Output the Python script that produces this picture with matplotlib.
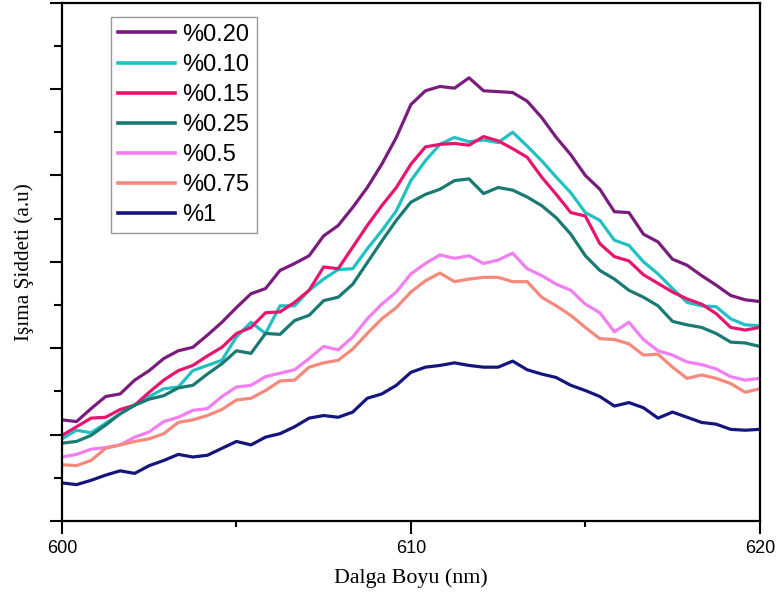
import numpy as np
import matplotlib
matplotlib.use('Agg')
from matplotlib import pyplot as plt
from matplotlib.ticker import MultipleLocator

# dalga boyu (nm), 49 nokta
wavelength = np.linspace(600, 620, 49)

labels = ['%0.20', '%0.10', '%0.15', '%0.25', '%0.5', '%0.75', '%1']
colors = ['#7a1c7e', '#22c0c2', '#e8146e', '#187a72', '#f27ef2', '#f58a7c', '#15157e']

p020 = [1.17, 1.15, 1.30, 1.44, 1.47, 1.63, 1.74, 1.88, 1.97, 2.01, 2.15, 2.30,
        2.47, 2.63, 2.69, 2.90, 2.98, 3.07, 3.30, 3.42, 3.63, 3.86, 4.13, 4.44,
        4.82, 4.98, 5.03, 5.01, 5.13, 4.98, 4.97, 4.96, 4.86, 4.67, 4.44, 4.24,
        4.00, 3.84, 3.58, 3.57, 3.32, 3.23, 3.03, 2.96, 2.84, 2.73, 2.61, 2.56, 2.54]
p010 = [0.95, 1.05, 1.02, 1.13, 1.24, 1.34, 1.44, 1.53, 1.55, 1.74, 1.80, 1.86,
        2.13, 2.30, 2.17, 2.49, 2.49, 2.67, 2.80, 2.91, 2.92, 3.15, 3.36, 3.59,
        3.94, 4.17, 4.36, 4.44, 4.39, 4.41, 4.38, 4.50, 4.34, 4.17, 3.98, 3.80,
        3.57, 3.48, 3.25, 3.19, 3.00, 2.86, 2.69, 2.53, 2.49, 2.48, 2.34, 2.27, 2.26]
p015 = [0.99, 1.09, 1.19, 1.20, 1.29, 1.34, 1.49, 1.63, 1.74, 1.80, 1.91, 2.01,
        2.17, 2.24, 2.41, 2.42, 2.53, 2.67, 2.94, 2.92, 3.17, 3.42, 3.65, 3.86,
        4.13, 4.33, 4.36, 4.37, 4.35, 4.45, 4.40, 4.31, 4.21, 3.98, 3.78, 3.57,
        3.53, 3.21, 3.06, 3.01, 2.85, 2.75, 2.65, 2.57, 2.51, 2.40, 2.24, 2.21, 2.24]
p025 = [0.90, 0.92, 0.99, 1.11, 1.24, 1.34, 1.41, 1.45, 1.54, 1.57, 1.70, 1.82,
        1.97, 1.94, 2.17, 2.16, 2.32, 2.38, 2.55, 2.59, 2.74, 2.99, 3.24, 3.48,
        3.69, 3.78, 3.84, 3.94, 3.96, 3.79, 3.86, 3.83, 3.75, 3.65, 3.51, 3.32,
        3.07, 2.90, 2.80, 2.67, 2.59, 2.49, 2.31, 2.27, 2.24, 2.17, 2.07, 2.06, 2.02]
p05 = [0.74, 0.77, 0.83, 0.85, 0.88, 0.97, 1.03, 1.15, 1.20, 1.28, 1.30, 1.44,
       1.55, 1.57, 1.67, 1.71, 1.75, 1.88, 2.02, 1.98, 2.13, 2.34, 2.51, 2.65,
       2.86, 2.98, 3.08, 3.04, 3.07, 2.98, 3.02, 3.10, 2.92, 2.84, 2.74, 2.67,
       2.51, 2.41, 2.19, 2.30, 2.10, 1.97, 1.92, 1.84, 1.81, 1.76, 1.67, 1.63, 1.65]
p075 = [0.65, 0.64, 0.70, 0.84, 0.88, 0.92, 0.95, 1.01, 1.14, 1.17, 1.22, 1.29,
        1.40, 1.42, 1.51, 1.62, 1.63, 1.78, 1.83, 1.86, 1.99, 2.17, 2.34, 2.47,
        2.65, 2.78, 2.87, 2.77, 2.80, 2.82, 2.82, 2.77, 2.77, 2.59, 2.49, 2.38,
        2.24, 2.11, 2.10, 2.05, 1.92, 1.93, 1.78, 1.65, 1.69, 1.65, 1.59, 1.49, 1.53]
p1 = [0.44, 0.42, 0.47, 0.53, 0.58, 0.55, 0.64, 0.70, 0.77, 0.74, 0.76, 0.84,
      0.92, 0.88, 0.97, 1.01, 1.09, 1.19, 1.22, 1.20, 1.26, 1.42, 1.47, 1.57,
      1.72, 1.78, 1.80, 1.83, 1.80, 1.78, 1.78, 1.85, 1.75, 1.70, 1.66, 1.57,
      1.51, 1.44, 1.33, 1.37, 1.31, 1.19, 1.26, 1.20, 1.14, 1.12, 1.06, 1.05, 1.06]

series = [p020, p010, p015, p025, p05, p075, p1]

fig = plt.figure(figsize=(7.77, 5.96), dpi=100)
ax = fig.add_axes([0.0798, 0.126, 0.898, 0.8695])

for vals, lab, col in zip(series, labels, colors):
    ax.plot(wavelength, vals, color=col, lw=2.3, label=lab)

ax.set_xlim(600, 620)
ax.set_ylim(0, 6)
ax.xaxis.set_major_locator(MultipleLocator(10))
ax.xaxis.set_minor_locator(MultipleLocator(5))
ax.yaxis.set_major_locator(MultipleLocator(1))
ax.yaxis.set_minor_locator(MultipleLocator(0.5))
ax.set_yticklabels([])
ax.tick_params(which='major', direction='out', length=9, width=1.5, labelsize=13, pad=5)
ax.tick_params(which='minor', direction='out', length=6, width=1.5)
ax.tick_params(axis='x', which='minor', length=4)
for lbl in ax.get_xticklabels():
    lbl.set_fontfamily('Liberation Sans')
for sp in ax.spines.values():
    sp.set_linewidth(1.6)

ax.set_xlabel('Dalga Boyu (nm)', family='Liberation Serif', fontsize=15.8, labelpad=8)
ax.set_ylabel('Işıma Şiddeti (a.u)', family='Liberation Serif', fontsize=15.3, labelpad=6)

leg = ax.legend(loc='upper left', bbox_to_anchor=(0.070, 0.973), fancybox=False,
                prop={'family': 'Liberation Sans', 'size': 17}, handlelength=2.4,
                handletextpad=0.33, labelspacing=0.34, borderpad=0.3, borderaxespad=0)
leg.get_frame().set_edgecolor('#808080')
leg.get_frame().set_linewidth(1.0)
for h in leg.get_lines():
    h.set_linewidth(2.6)

fig.savefig('out.png', dpi=100)
